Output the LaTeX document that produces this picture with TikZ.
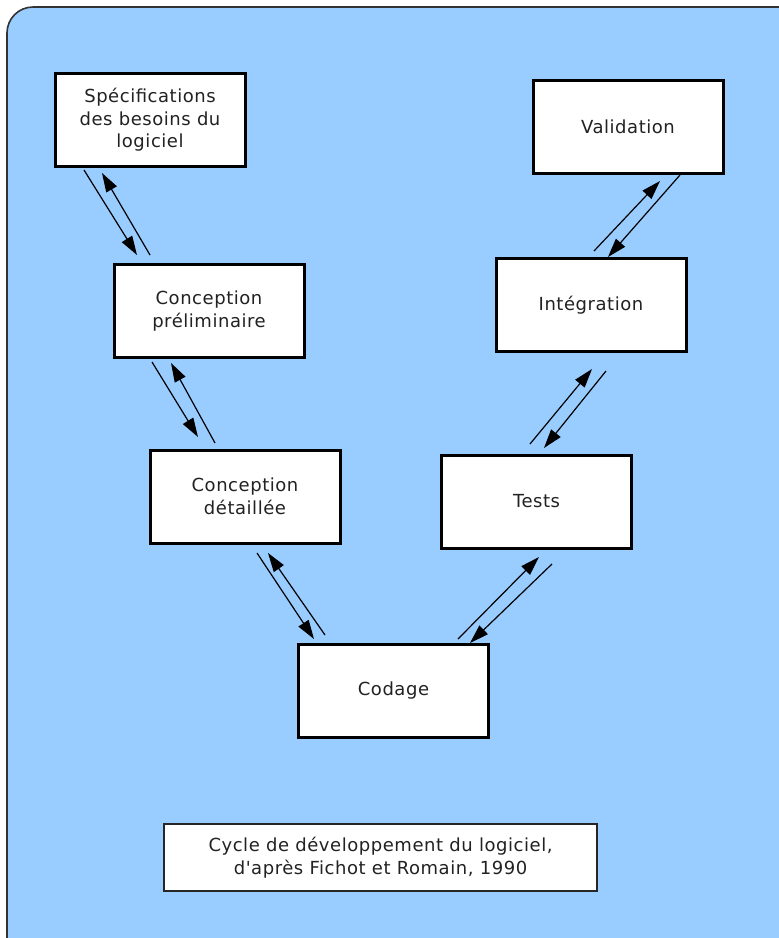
\documentclass[tikz,border=0pt]{standalone}
\usepackage{fontspec}
\newfontfamily\labelfont{DejaVu Sans}[LetterSpace=3]
\usetikzlibrary{arrows.meta}
\definecolor{bgblue}{HTML}{99CCFF}
\definecolor{txt}{HTML}{222222}
\begin{document}
\begin{tikzpicture}[x=1pt,y=-1pt,
  stage/.style={draw=black,line width=3pt,fill=white,minimum width=190pt,minimum height=93pt,inner sep=0pt,
     font=\labelfont\fontsize{18}{22.5}\selectfont,text=txt,align=center},
  capbox/.style={draw=black!85,line width=1.3pt,fill=white,minimum width=433pt,minimum height=67pt,inner sep=0pt,
     font=\labelfont\fontsize{18}{22.5}\selectfont,text=txt,align=center},
  flow/.style={line width=1.2pt,-{Triangle[length=19pt,width=12pt]}}]
\useasboundingbox (0,0) rectangle (779,938);
\begin{scope}
\clip (0,0) rectangle (779,938);
\fill[white] (0,0) rectangle (779,938);
\draw[fill=bgblue,draw=black!80,line width=1.6pt,rounded corners=26pt] (7,7) rectangle (805,965);
\end{scope}
\node[stage] (spec) at (150,120) {Spécifications\\des besoins du\\logiciel};
\node[stage] (valid) at (628,126.5) {Validation};
\node[stage] (cprel) at (209,311) {Conception\\préliminaire};
\node[stage] (integ) at (591,305) {Intégration};
\node[stage] (cdet) at (245,496.5) {Conception\\détaillée};
\node[stage] (tests) at (536.5,501.5) {Tests};
\node[stage] (codage) at (393.5,691) {Codage};
\node[capbox] (cap) at (380.5,857.5) {Cycle de développement du logiciel,\\d'après Fichot et Romain, 1990};
% coordinates for arrow ends
\coordinate (a1s) at (84,170); \coordinate (a1e) at (137,255);
\coordinate (a2s) at (150,255); \coordinate (a2e) at (102,173);
\coordinate (b1s) at (152,362); \coordinate (b1e) at (198,437);
\coordinate (b2s) at (215,443); \coordinate (b2e) at (171,363);
\coordinate (c1s) at (257,553); \coordinate (c1e) at (314,639);
\coordinate (c2s) at (325,635); \coordinate (c2e) at (268,553);
\coordinate (d1s) at (458,639); \coordinate (d1e) at (539,557);
\coordinate (d2s) at (552,564); \coordinate (d2e) at (470,643);
\coordinate (e1s) at (530,444); \coordinate (e1e) at (592,369);
\coordinate (e2s) at (606,371); \coordinate (e2e) at (544,448);
\coordinate (f1s) at (594,251); \coordinate (f1e) at (660,181);
\coordinate (f2s) at (680,175); \coordinate (f2e) at (608,257);
\draw[flow] (a1s) -- (a1e);
\draw[flow] (a2s) -- (a2e);
\draw[flow] (b1s) -- (b1e);
\draw[flow] (b2s) -- (b2e);
\draw[flow] (c1s) -- (c1e);
\draw[flow] (c2s) -- (c2e);
\draw[flow] (d1s) -- (d1e);
\draw[flow] (d2s) -- (d2e);
\draw[flow] (e1s) -- (e1e);
\draw[flow] (e2s) -- (e2e);
\draw[flow] (f1s) -- (f1e);
\draw[flow] (f2s) -- (f2e);
\end{tikzpicture}
\end{document}
